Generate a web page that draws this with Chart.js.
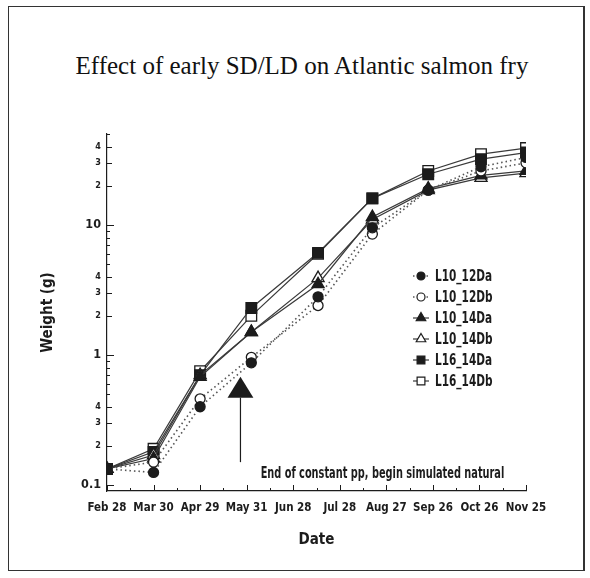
<!DOCTYPE html>
<html>
<head>
<meta charset="utf-8">
<script src="https://cdn.jsdelivr.net/npm/chart.js@4.4.1/dist/chart.umd.min.js"></script>
<style>
  html, body { margin: 0; padding: 0; background: #fff; }
  #wrap { position: relative; width: 590px; height: 578px; overflow: hidden; }
  #frame { position: absolute; left: 8px; top: 6px; width: 574px; height: 563px;
           border: 1.5px solid #333; border-right-width: 2.5px; }
  #title { position: absolute; left: 0; top: 52px; width: 604px; text-align: center;
           font-family: "Liberation Serif", "DejaVu Serif", serif; font-size: 25px; color: #111; }
  canvas { position: absolute; left: 0; top: 0; }
</style>
</head>
<body>
<div id="wrap">
  <div id="frame"></div>
  <div id="title">Effect of early SD/LD on Atlantic salmon fry</div>
  <canvas id="c" width="590" height="578"></canvas>
</div>
<script>
// Days since Feb 28 for each weighing, and weights (g) per group.
const DAYS = [0, 30, 60, 93, 136, 171, 207, 241, 270];
const L10_12Da = [0.133, 0.125, 0.40, 0.87, 2.8, 9.5, 18.5, 28, 33];
const L10_12Db = [0.133, 0.15, 0.46, 0.96, 2.4, 8.5, 18.5, 26, 30];
const L10_14Da = [0.133, 0.16, 0.68, 1.5, 3.5, 11.5, 19, 24, 26];
const L10_14Db = [0.133, 0.17, 0.70, 1.5, 3.9, 11, 18.5, 23, 25];
const L16_14Da = [0.133, 0.18, 0.70, 2.3, 6.1, 16, 24.5, 32, 36];
const L16_14Db = [0.133, 0.19, 0.75, 2.0, 6.0, 16, 26, 35, 39];

// x axis: tick every 15 days, labels on the 30-day ticks
const X_TICKS = [0, 15, 30, 45, 60, 75, 90, 105, 120, 135, 150, 165, 180, 195, 210, 225, 240, 255, 270];
const X_LABELS = ["Feb 28", "Mar 30", "Apr 29", "May 31", "Jun 28", "Jul 28", "Aug 27", "Sep 26", "Oct 26", "Nov 25"];
// y axis (log): tick values and which carry labels
const Y_TICKS = [0.1, 0.2, 0.3, 0.4, 0.5, 0.6, 0.7, 0.8, 0.9, 1, 2, 3, 4, 5, 6, 7, 8, 9, 10, 20, 30, 40, 50];
const Y_LABELS = { 0.1: "0.1", 0.2: "2", 0.3: "3", 0.4: "4", 1: "1", 2: "2", 3: "3", 4: "4", 10: "10", 20: "2", 30: "3", 40: "4" };

// annotation: arrow marking end of constant photoperiod
const ARROW_DAY = 86, ARROW_TIP = 0.68, ARROW_BASE = 0.47, ARROW_TAIL = 0.15;
const NOTE_TEXT = "End of constant pp, begin simulated natural";
const NOTE_DAY = 99, NOTE_VAL = 0.123;

const INK = "#1c1c1c";
const LINE = "#3a3a3a";
const NARROW = "'Liberation Sans Narrow', 'DejaVu Sans Condensed', 'Arial Narrow', sans-serif";

const toXY = (vals) => vals.map((v, i) => ({ x: DAYS[i], y: v }));
const series = (label, vals, style, filled, dotted) => ({
  label, data: toXY(vals),
  borderColor: dotted ? "#555" : LINE,
  borderWidth: dotted ? 1.6 : 1.2,
  borderDash: dotted ? [1.5, 3] : [],
  pointStyle: style,
  pointRadius: style === "circle" ? 5 : style === "rect" ? 7.5 : 7,
  pointBackgroundColor: filled ? INK : "#fff",
  pointBorderColor: INK,
  pointBorderWidth: 1.3,
  tension: 0, fill: false,
});

const datasets = [
  series("L10_12Da", L10_12Da, "circle", true, true),
  series("L10_12Db", L10_12Db, "circle", false, true),
  series("L10_14Da", L10_14Da, "triangle", true, false),
  series("L10_14Db", L10_14Db, "triangle", false, false),
  series("L16_14Da", L16_14Da, "rect", true, false),
  series("L16_14Db", L16_14Db, "rect", false, false),
];

// condensed text: squeeze horizontally around the anchor point
function narrowText(ctx, text, x, y, squeeze) {
  ctx.save();
  ctx.translate(x, y);
  ctx.scale(squeeze, 1);
  ctx.fillText(text, 0, 0);
  ctx.restore();
}

// Inward-pointing tick marks, like the original plot.
const innerTicks = {
  id: "innerTicks",
  afterDatasetsDraw(c) {
    const ctx = c.ctx, a = c.chartArea, xs = c.scales.x, ys = c.scales.y;
    ctx.save();
    ctx.strokeStyle = INK; ctx.lineWidth = 1;
    ctx.beginPath();
    xs.ticks.forEach((t) => {
      const px = Math.round(xs.getPixelForValue(t.value)) + 0.5;
      const len = t.value % 30 === 0 ? 6 : 3;
      ctx.moveTo(px, a.bottom); ctx.lineTo(px, a.bottom - len);
    });
    ys.ticks.forEach((t) => {
      const py = Math.round(ys.getPixelForValue(t.value)) + 0.5;
      const dec = Math.abs(Math.log10(t.value) - Math.round(Math.log10(t.value))) < 1e-6;
      const len = dec ? 7 : (Y_LABELS[t.value] ? 5 : 3);
      ctx.moveTo(a.left, py); ctx.lineTo(a.left + len, py);
    });
    ctx.stroke();
    ctx.restore();
  },
};

// Arrow + note text, placed through the scales.
const annotation = {
  id: "annotation",
  afterDatasetsDraw(c) {
    const ctx = c.ctx, xs = c.scales.x, ys = c.scales.y;
    const ax = xs.getPixelForValue(ARROW_DAY);
    const tip = ys.getPixelForValue(ARROW_TIP), base = ys.getPixelForValue(ARROW_BASE);
    const tail = ys.getPixelForValue(ARROW_TAIL);
    const half = (base - tip) * 0.62;
    ctx.save();
    ctx.fillStyle = INK; ctx.strokeStyle = INK; ctx.lineWidth = 1.2;
    ctx.beginPath();
    ctx.moveTo(ax, tip); ctx.lineTo(ax + half, base); ctx.lineTo(ax - half, base); ctx.closePath();
    ctx.fill();
    ctx.beginPath(); ctx.moveTo(ax, base); ctx.lineTo(ax, tail); ctx.stroke();
    ctx.font = "bold 16px " + NARROW;
    ctx.textBaseline = "middle"; ctx.textAlign = "left";
    narrowText(ctx, NOTE_TEXT, xs.getPixelForValue(NOTE_DAY), ys.getPixelForValue(NOTE_VAL), 0.68);
    ctx.restore();
  },
};

// Legend drawn from the dataset styles, inside the plot.
const sideLegend = {
  id: "sideLegend",
  afterDraw(c, args, opts) {
    const ctx = c.ctx;
    ctx.save();
    ctx.font = "bold 15px " + NARROW;
    ctx.textBaseline = "middle";
    c.data.datasets.forEach((ds, i) => {
      const y = opts.y + i * opts.gap, x = opts.x;
      ctx.strokeStyle = ds.borderColor; ctx.lineWidth = ds.borderWidth;
      ctx.setLineDash(ds.borderDash);
      ctx.beginPath(); ctx.moveTo(x - 8, y); ctx.lineTo(x + 8, y); ctx.stroke();
      ctx.setLineDash([]);
      ctx.fillStyle = ds.pointBackgroundColor; ctx.strokeStyle = ds.pointBorderColor;
      ctx.lineWidth = 1.2;
      Chart.helpers.drawPoint(ctx, { pointStyle: ds.pointStyle, radius: ds.pointStyle === "circle" ? 4 : 5.5, borderWidth: 1.2 }, x, y);
      ctx.fillStyle = INK;
      narrowText(ctx, ds.label, x + 14, y + 1, 0.78);
    });
    ctx.restore();
  },
};

new Chart(document.getElementById("c"), {
  type: "line",
  data: { datasets },
  options: {
    responsive: false,
    animation: false,
    layout: { padding: { left: 20, right: 64, top: 134, bottom: 20 } },
    plugins: {
      legend: { display: false },
      tooltip: { enabled: false },
      sideLegend: { x: 421, y: 276, gap: 21 },
    },
    scales: {
      x: {
        type: "linear", min: 0, max: 270,
        afterFit: (s) => { s.height = 67; },
        afterBuildTicks: (s) => { s.ticks = X_TICKS.map((v) => ({ value: v })); },
        grid: { display: false, drawTicks: false },
        border: { display: true, color: INK, width: 1.2 },
        ticks: {
          padding: 10, color: INK, autoSkip: false, maxRotation: 0,
          font: { family: NARROW, size: 11.5, weight: "bold" },
          callback: (v) => (v % 30 === 0 ? X_LABELS[v / 30] : ""),
        },
        title: { display: true, text: "Date", color: INK, padding: { top: 0, bottom: 9 },
                 font: { family: NARROW, size: 15, weight: "bold" } },
      },
      y: {
        type: "logarithmic", min: 0.09, max: 50,
        afterFit: (s) => { s.width = 87; },
        afterBuildTicks: (s) => { s.ticks = Y_TICKS.map((v) => ({ value: v })); },
        grid: { display: false, drawTicks: false },
        border: { display: true, color: INK, width: 1.2 },
        ticks: {
          padding: 6, color: INK, autoSkip: false,
          font: (ctx) => {
            const v = ctx.tick && ctx.tick.value;
            const big = v === 0.1 || v === 1 || v === 10;
            return { family: NARROW, size: big ? 12.5 : 9, weight: "bold" };
          },
          callback: (v) => Y_LABELS[v] || "",
        },
        title: { display: true, text: "Weight (g)", color: INK, padding: { top: 19, bottom: 0 },
                 font: { family: NARROW, size: 15, weight: "bold" } },
      },
    },
  },
  plugins: [innerTicks, annotation, sideLegend],
});
</script>
</body>
</html>
